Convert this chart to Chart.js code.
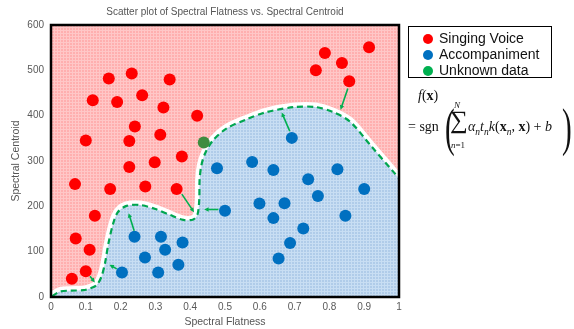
<!DOCTYPE html>
<html>
<head>
<meta charset="utf-8">
<script src="https://cdn.jsdelivr.net/npm/chart.js@4.4.0/dist/chart.umd.min.js"></script>
<style>
  body { margin: 0; background: #fff; }
  #wrap { position: relative; width: 574px; height: 329px; overflow: hidden; }
  #grafico { position: absolute; left: 0; top: 0; }
  .legenda {
    position: absolute; left: 408px; top: 26px; width: 142px; height: 50px;
    border: 1.5px solid #000; font-family: "Liberation Sans", Arial, sans-serif;
    font-size: 14px; color: #111;
  }
  .legenda .item { position: absolute; left: 14px; height: 16px; line-height: 16px; white-space: nowrap; }
  .legenda .dot { display: inline-block; width: 10px; height: 10px; border-radius: 50%; margin-right: 6px; vertical-align: -1px; }
  .f { position: absolute; font-family: "Liberation Serif", "DejaVu Serif", serif; font-size: 14px; color: #111; white-space: nowrap; }
  .f sub { font-size: 9.5px; }
  .paren { font-size: 53px; transform: scale(0.55, 1); transform-origin: left top; line-height: 1; }
</style>
</head>
<body>
<div id="wrap">
  <canvas id="grafico" width="574" height="329"></canvas>

  <div class="legenda">
    <div class="item" style="top:3px"><span class="dot" style="background:#ff0000"></span>Singing Voice</div>
    <div class="item" style="top:19px"><span class="dot" style="background:#0070c0"></span>Accompaniment</div>
    <div class="item" style="top:35px"><span class="dot" style="background:#00b050"></span>Unknown data</div>
  </div>

  <!-- decision function -->
  <div class="f" style="left:418px; top:88px"><i>f</i>(<b>x</b>)</div>
  <div class="f" style="left:408px; top:119px">= sgn</div>
  <div class="f paren" style="left:445px; top:101px">(</div>
  <div class="f" style="left:450px; top:107px; font-size:25px; line-height:25px">&sum;</div>
  <div class="f" style="left:454px; top:100px; font-size:9px"><i>N</i></div>
  <div class="f" style="left:451px; top:140px; font-size:9px"><i>n</i>=1</div>
  <div class="f" style="left:468px; top:119px"><i>&alpha;<sub>n</sub>t<sub>n</sub>k</i>(<b>x</b><sub><i>n</i></sub>, <b>x</b>) + <i>b</i></div>
  <div class="f paren" style="left:562px; top:101px">)</div>
</div>

<script>
// pontos de cada classe (flatness, centroid)
const vozX = [0.100, 0.120, 0.166, 0.190, 0.232, 0.262, 0.241, 0.225, 0.314, 0.323, 0.341, 0.420, 0.376, 0.298, 0.225,
  0.069, 0.170, 0.271, 0.361, 0.126, 0.071, 0.111, 0.100, 0.060,
  0.761, 0.787, 0.836, 0.857, 0.914];
const vozY = [345, 434, 482, 430, 493, 445, 376, 344, 358, 418, 480, 400, 310, 297, 287,
  249, 238, 244, 238, 179, 129, 104, 57, 40,
  500, 538, 516, 476, 551];

const acompX = [0.692, 0.477, 0.578, 0.639, 0.823, 0.900, 0.739, 0.767, 0.599, 0.671, 0.639, 0.846, 0.725, 0.687, 0.654,
  0.500, 0.240, 0.316, 0.378, 0.328, 0.270, 0.366, 0.204, 0.308];
const acompY = [351, 284, 298, 280, 282, 238, 260, 223, 206, 207, 174, 179, 151, 119, 85,
  190, 133, 133, 120, 104, 87, 71, 54, 54];

const desconhecidoX = [0.439];
const desconhecidoY = [341];

// fronteira de decisao
const fronteiraX = [0.003, 0.026, 0.055, 0.093, 0.112, 0.131, 0.145, 0.155, 0.165, 0.179, 0.193, 0.217, 0.256, 0.300,
  0.342, 0.380, 0.409, 0.421, 0.426, 0.427, 0.432, 0.443, 0.466, 0.505, 0.562, 0.620, 0.700, 0.760, 0.810, 0.859,
  0.921, 0.984, 1.000];
const fronteiraY = [2, 12, 14, 15, 19, 26, 45, 74, 118, 163, 188, 201, 203, 194,
  181, 170, 171, 182, 214, 258, 290, 317, 346, 372, 392, 408, 419, 419, 408, 387,
  332, 276, 262];

// setas (vetores de suporte -> fronteira)
const setaDe = [[0.853, 460], [0.686, 366], [0.376, 227], [0.481, 193], [0.239, 146], [0.189, 62], [0.112, 46]];
const setaPara = [[0.832, 413], [0.663, 407], [0.411, 187], [0.440, 193], [0.223, 185], [0.168, 71], [0.126, 32]];

const ticksX = [0, 0.1, 0.2, 0.3, 0.4, 0.5, 0.6, 0.7, 0.8, 0.9, 1];
const ticksY = [0, 100, 200, 300, 400, 500, 600];

function pares(xs, ys) {
  return xs.map((x, i) => ({ x: x, y: ys[i] }));
}

// textura quadriculada do fundo
function textura(base, linha) {
  const c = document.createElement("canvas");
  c.width = 3;
  c.height = 3;
  const g = c.getContext("2d");
  g.fillStyle = base;
  g.fillRect(0, 0, 3, 3);
  g.fillStyle = linha;
  g.fillRect(0, 0, 3, 1);
  g.fillRect(0, 0, 1, 3);
  return g.createPattern(c, "repeat");
}

const rosa = textura("rgb(255,175,175)", "rgb(255,199,199)");
const azul = textura("rgb(176,204,233)", "rgb(200,222,243)");

const fundoPlugin = {
  id: "fundo",
  beforeDatasetsDraw(chart) {
    const a = chart.chartArea;
    const ctx = chart.ctx;
    ctx.save();
    ctx.fillStyle = rosa;
    ctx.fillRect(a.left, a.top, a.right - a.left, a.bottom - a.top);
    ctx.restore();
  },
  afterDatasetsDraw(chart) {
    const ctx = chart.ctx;
    const sx = chart.scales.x;
    const sy = chart.scales.y;
    ctx.save();
    ctx.strokeStyle = "#00b050";
    ctx.fillStyle = "#00b050";
    ctx.lineWidth = 1.6;
    setaDe.forEach((p, i) => {
      const x1 = sx.getPixelForValue(p[0]);
      const y1 = sy.getPixelForValue(p[1]);
      const x2 = sx.getPixelForValue(setaPara[i][0]);
      const y2 = sy.getPixelForValue(setaPara[i][1]);
      const ang = Math.atan2(y2 - y1, x2 - x1);
      const cab = 5;
      ctx.beginPath();
      ctx.moveTo(x1, y1);
      ctx.lineTo(x2 - Math.cos(ang) * cab * 0.8, y2 - Math.sin(ang) * cab * 0.8);
      ctx.stroke();
      ctx.beginPath();
      ctx.moveTo(x2, y2);
      ctx.lineTo(x2 - cab * Math.cos(ang - 0.45), y2 - cab * Math.sin(ang - 0.45));
      ctx.lineTo(x2 - cab * Math.cos(ang + 0.45), y2 - cab * Math.sin(ang + 0.45));
      ctx.closePath();
      ctx.fill();
    });
    ctx.restore();
  },
  afterDraw(chart) {
    const a = chart.chartArea;
    const ctx = chart.ctx;
    ctx.save();
    ctx.strokeStyle = "#000";
    ctx.lineWidth = 2.5;
    ctx.strokeRect(a.left, a.top, a.right - a.left, a.bottom - a.top);
    ctx.restore();
  },
};

const fonte = "'Liberation Sans', Arial, sans-serif";
const curva = pares(fronteiraX, fronteiraY);

const ctx = document.getElementById("grafico").getContext("2d");
const grafico = new Chart(ctx, {
  type: "scatter",
  data: {
    datasets: [
      {
        label: "Singing Voice",
        data: pares(vozX, vozY),
        backgroundColor: "#ff0000",
        borderWidth: 0,
        pointRadius: 6,
        order: 1,
      },
      {
        label: "Accompaniment",
        data: pares(acompX, acompY),
        backgroundColor: "#0070c0",
        borderWidth: 0,
        pointRadius: 6,
        order: 1,
      },
      {
        label: "Unknown data",
        data: pares(desconhecidoX, desconhecidoY),
        backgroundColor: "#3f8c3f",
        borderWidth: 0,
        pointRadius: 6,
        order: 1,
      },
      {
        // faixa branca por fora da fronteira
        type: "line",
        data: curva,
        borderColor: "#ffffff",
        borderWidth: 9,
        pointRadius: 0,
        tension: 0.3,
        fill: false,
        clip: 0,
        order: 4,
      },
      {
        type: "line",
        data: curva,
        borderWidth: 0,
        borderColor: "rgba(0,0,0,0)",
        backgroundColor: azul,
        pointRadius: 0,
        tension: 0.3,
        fill: "origin",
        clip: 0,
        order: 3,
      },
      {
        type: "line",
        data: curva,
        borderColor: "#00a650",
        borderWidth: 2.2,
        borderDash: [6, 4],
        pointRadius: 0,
        tension: 0.3,
        fill: false,
        clip: 0,
        order: 2,
      },
    ],
  },
  options: {
    responsive: false,
    animation: false,
    events: [],
    layout: { padding: { left: 0, right: 175, top: 0, bottom: 0 } },
    plugins: {
      legend: { display: false },
      tooltip: { enabled: false },
      title: {
        display: true,
        fullSize: false,
        text: "Scatter plot of Spectral Flatness vs. Spectral Centroid",
        color: "#555",
        font: { family: fonte, size: 10, weight: "normal" },
        padding: { top: 6, bottom: 7 },
      },
    },
    scales: {
      x: {
        type: "linear",
        min: 0,
        max: 1,
        afterFit: (s) => { s.height = 32; },
        afterBuildTicks: (s) => { s.ticks = ticksX.map((v) => ({ value: v })); },
        grid: { display: false, drawTicks: false },
        border: { display: false },
        ticks: {
          color: "#595959",
          font: { family: fonte, size: 10 },
          padding: 4,
          maxRotation: 0,
          callback: (v) => String(+v.toFixed(1)),
        },
        title: {
          display: true,
          text: "Spectral Flatness",
          color: "#555",
          font: { family: fonte, size: 10.5 },
          padding: { top: 0, bottom: 1 },
        },
      },
      y: {
        type: "linear",
        min: 0,
        max: 600,
        afterFit: (s) => { s.width = 51; },
        afterBuildTicks: (s) => { s.ticks = ticksY.map((v) => ({ value: v })); },
        grid: { display: false, drawTicks: false },
        border: { display: false },
        ticks: { color: "#595959", font: { family: fonte, size: 10 }, padding: 7 },
        title: {
          display: true,
          text: "Spectral Centroid",
          color: "#555",
          font: { family: fonte, size: 10.5 },
          padding: { top: 10, bottom: 0 },
        },
      },
    },
  },
  plugins: [fundoPlugin],
});
</script>
</body>
</html>
